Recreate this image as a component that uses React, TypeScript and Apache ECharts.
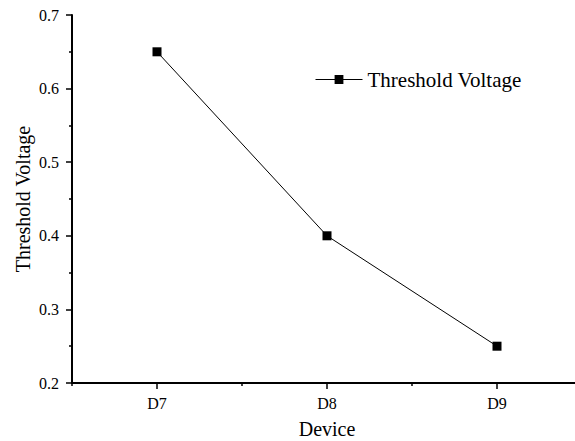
import React, { useEffect, useRef } from "react";
import * as echarts from "echarts";

const categories = ["D7", "D8", "D9"];
const thresholdVoltage = [0.65, 0.4, 0.25];
const seriesName = "Threshold Voltage";
const xAxisName = "Device";
const yAxisName = "Threshold Voltage";

const FONT = "'Liberation Serif', 'Times New Roman', serif";

export default function App() {
  const ref = useRef<HTMLDivElement>(null);
  useEffect(() => {
    if (!ref.current) return;
    const chart = echarts.init(ref.current, undefined, { renderer: "svg" });
    const axisLine = { show: true, lineStyle: { color: "#000", width: 2 } };
    const tickStyle = { color: "#000", width: 1.5 };
    chart.setOption({
      animation: false,
      backgroundColor: "#fff",
      textStyle: { fontFamily: FONT, color: "#000" },
      grid: {
        left: 72,
        top: 15,
        width: 510,
        height: 368,
        containLabel: false,
        outerBoundsMode: "none",
      },
      legend: {
        left: 310,
        top: 64,
        itemWidth: 47,
        itemHeight: 11,
        itemGap: 10,
        lineStyle: { width: 1, color: "#000" },
        textStyle: { fontFamily: FONT, fontSize: 21, color: "#000" },
        data: [seriesName],
      },
      xAxis: [
        {
          type: "category",
          data: categories,
          boundaryGap: true,
          axisLine,
          axisTick: { show: true, inside: false, alignWithLabel: true, length: 6, lineStyle: tickStyle },
          axisLabel: { fontFamily: FONT, fontSize: 16, color: "#000", margin: 12 },
          splitLine: { show: false },
          name: xAxisName,
          nameLocation: "middle",
          nameGap: 36,
          nameMoveOverlap: false,
          nameTextStyle: { fontFamily: FONT, fontSize: 20, color: "#000" },
        },
        {
          type: "category",
          data: categories,
          boundaryGap: true,
          position: "bottom",
          axisLine: { show: false },
          axisTick: { show: true, inside: false, alignWithLabel: false, length: 3, lineStyle: tickStyle },
          axisLabel: { show: false },
          splitLine: { show: false },
        },
      ],
      yAxis: {
        type: "value",
        min: 0.2,
        max: 0.7,
        interval: 0.1,
        axisLine,
        axisTick: { show: true, inside: false, length: 6, lineStyle: tickStyle },
        minorTick: { show: true, splitNumber: 2, length: 3, lineStyle: tickStyle },
        axisLabel: {
          fontFamily: FONT,
          fontSize: 16,
          color: "#000",
          margin: 13,
          formatter: (v: number) => v.toFixed(1),
        },
        splitLine: { show: false },
        minorSplitLine: { show: false },
        name: yAxisName,
        nameLocation: "middle",
        nameGap: 39,
        nameMoveOverlap: false,
        nameTextStyle: { fontFamily: FONT, fontSize: 20, color: "#000" },
      },
      series: [
        {
          name: seriesName,
          type: "line",
          data: thresholdVoltage,
          symbol: "rect",
          symbolSize: 9,
          lineStyle: { color: "#000", width: 1 },
          itemStyle: { color: "#000" },
        },
      ],
    });
    return () => chart.dispose();
  }, []);
  return (
    <div
      ref={ref}
      style={{ position: "fixed", left: 0, top: 0, width: 575, height: 441 }}
    />
  );
}
